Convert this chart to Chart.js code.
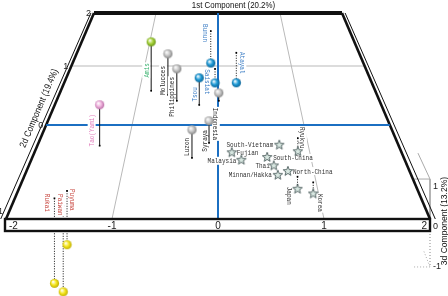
<!DOCTYPE html>
<html>
<head>
    <meta charset="utf-8">
    <script src="https://cdn.jsdelivr.net/npm/chart.js@4.4.1/dist/chart.umd.min.js"></script>
    <style>
        html, body { margin: 0; padding: 0; background: #fff; }
        #wrap { width: 448px; height: 296px; }
    </style>
</head>
<body>
<div id="wrap"><canvas id="pca" width="448" height="296"></canvas></div>
<script>
    // population scores on the first three principal components
    const populations = ['Amis', 'Molucces', 'Philippines', 'Tsou', 'Bunun', 'Saisiat', 'Atayal', 'Indonesia',
        'Syraya', 'Luzon', 'Tao(Yami)', 'Puyuma', 'Paiwan', 'Rukai',
        'South-Vietnam', 'Fujian', 'Malaysia', 'South-China', 'Thai', 'Minnan/Hakka', 'North-China',
        'Ryukyu', 'Japan', 'Korea'];
    const pc1 = [-0.85, -0.63, -0.51, -0.23, -0.11, -0.04, 0.26, 0.01,
        -0.10, -0.28, -1.31, -1.51, -1.50, -1.61,
        0.68, 0.15, 0.25, 0.53, 0.59, 0.62, 0.73,
        0.90, 0.82, 0.97];
    const pc2 = [0.58, 0.51, 0.41, 0.34, 1.66, 0.95, 1.25, 0.41,
        -0.19, -0.35, -0.22, -0.70, -0.86, -0.78,
        -0.21, -0.29, -0.37, -0.34, -0.43, -0.53, -0.49,
        -0.14, -0.55, -0.61];
    const pc3 = [1.65, 1.37, 1.05, 0.88, -1.29, -0.50, -1.13, 0.26,
        0.65, 0.80, 1.20, -1.43, -2.21, -2.22,
        0, 0, 0, 0, 0, 0, 0,
        -0.39, -0.33, -0.30];
    const groups = ['amis', 'island', 'island', 'taiwan', 'taiwan', 'taiwan', 'taiwan', 'island',
        'island', 'island', 'tao', 'south', 'south', 'south',
        'asia', 'asia', 'asia', 'asia', 'asia', 'asia', 'asia',
        'asia', 'asia', 'asia'];

    const pc1Ticks = [-2, -1, 0, 1, 2];
    const pc2Ticks = [2, 1, 0, -1];
    const pc3Ticks = [1, 0, -1];
    const titles = ['1st Component (20.2%)', '2d Component (19.4%)', '3d Component (13.2%)'];

    // ---- look ----
    const groupStyle = {
        amis:   { marker: 'ball', color: '#a8d43a', dark: '#5d8a12', text: '#3cb371' },
        taiwan: { marker: 'ball', color: '#1e9bd7', dark: '#0b5c8c', text: '#3a7cc4' },
        island: { marker: 'ball', color: '#c6c6c6', dark: '#7c7c7c', text: '#222' },
        tao:    { marker: 'ball', color: '#efb2dd', dark: '#b2639e', text: '#e27dbb' },
        south:  { marker: 'ball', color: '#f6e61c', dark: '#b5a500', text: '#c8453e' },
        asia:   { marker: 'star', color: '#d8e7e1', dark: '#4c5c5c', text: '#333' }
    };

    // [rotation, dx, dy]; rotated labels sit beside the drop line, flat ones beside the star
    const labelPlace = {
        'Amis': [-90, -5, 4], 'Molucces': [-90, -5, 6], 'Philippines': [-90, -5, 12], 'Tsou': [-90, -5, 3],
        'Bunun': [90, -5, -14], 'Saisiat': [90, -8, 6], 'Atayal': [90, 6, -5], 'Indonesia': [90, -3, 27],
        'Syraya': [-90, -5, 9], 'Luzon': [-90, -5, 3], 'Tao(Yami)': [-90, -8, 5],
        'Puyuma': [90, 5, -18], 'Paiwan': [90, -3, -44], 'Rukai': [90, -7, -38],
        'Ryukyu': [90, 5, -7], 'Japan': [90, -8, 13], 'Korea': [90, 7, 15],
        'South-Vietnam': [0, -6, 0], 'Fujian': [0, 5, 0], 'Malaysia': [0, -5, 1], 'South-China': [0, 6, 1],
        'Thai': [0, -4, 0], 'North-China': [0, 5, 0], 'Minnan/Hakka': [0, -6, 0]
    };

    // perspective of the floor (pc3 = 0) in view units
    const view = { cx: 218, rows: [13, 66, 125, 219], w0: 62, wSlope: 0.2136, rise: 0.377 };

    function floorRow(p2) {
        const r = view.rows;
        for (let i = 0; i < pc2Ticks.length - 1; i++) {
            const a = pc2Ticks[i], b = pc2Ticks[i + 1];
            if (p2 <= a && p2 >= b || i === pc2Ticks.length - 2) {
                return r[i] + (a - p2) / (a - b) * (r[i + 1] - r[i]);
            }
        }
    }

    function project(p1, p2, p3) {
        const yf = floorRow(p2);
        const w = view.w0 + (yf - view.rows[0]) * view.wSlope;
        return { x: view.cx + p1 * w, y: yf - p3 * w * view.rise };
    }

    function segment(points, color, width, dash, order) {
        return {
            data: points.map(p => project(p[0], p[1], p[2])),
            showLine: true, borderColor: color, borderWidth: width, borderDash: dash || [],
            pointRadius: 0, order: order, borderCapStyle: 'butt'
        };
    }

    function sphere(color, dark) {
        const c = document.createElement('canvas');
        c.width = 11; c.height = 11;
        const g = c.getContext('2d');
        const grd = g.createRadialGradient(4, 3.8, 0.3, 5.5, 5.5, 5);
        grd.addColorStop(0, '#ffffff');
        grd.addColorStop(0.5, color);
        grd.addColorStop(1, dark);
        g.fillStyle = grd;
        g.beginPath(); g.arc(5.5, 5.5, 4.6, 0, Math.PI * 2); g.fill();
        return c;
    }

    function star(color, dark) {
        const c = document.createElement('canvas');
        c.width = 12; c.height = 12;
        const g = c.getContext('2d');
        g.beginPath();
        for (let i = 0; i < 10; i++) {
            const r = i % 2 ? 2.1 : 5;
            const a = -Math.PI / 2 + i * Math.PI / 5;
            g.lineTo(6 + r * Math.cos(a), 6.3 + r * Math.sin(a));
        }
        g.closePath();
        g.fillStyle = color; g.fill();
        g.strokeStyle = dark; g.lineWidth = 0.9; g.stroke();
        return c;
    }

    const datasets = [];
    const gray = '#b9b9b9', blue = '#1b6fc2', ink = '#111';

    // floor grid
    datasets.push(segment([[-2, 1, 0], [2, 1, 0]], gray, 1, null, 6));
    datasets.push(segment([[-1, 2, 0], [-1, -1, 0]], gray, 1, null, 6));
    datasets.push(segment([[1, 2, 0], [1, -1, 0]], gray, 1, null, 6));
    datasets.push(segment([[-2, 0, 0], [2, 0, 0]], blue, 2, null, 5));
    datasets.push(segment([[0, 2, 0], [0, -1, 0]], blue, 2, null, 5));
    // floor frame
    datasets.push(segment([[-2, 2, 0], [2, 2, 0]], ink, 4, null, 5));
    datasets.push(segment([[-2, 2, 0], [-2, -1, 0]], ink, 2.6, null, 5));
    datasets.push(segment([[-2.05, 2, 0], [-2.05, -1, 0]], ink, 1, null, 5));
    datasets.push(segment([[2, 2, 0], [2, -1, 0]], ink, 2.6, null, 5));
    datasets.push(segment([[2.05, 2, 0], [2.05, -1, 0]], ink, 1, null, 5));
    // third component box corner
    datasets.push(segment([[2, -0.7, 1], [2, -1, 1]], '#aaa', 1, null, 5));
    datasets.push(segment([[1.85, -1, 1], [2, -1, 1]], '#aaa', 1, null, 5));
    datasets.push(segment([[2, -1, 1], [2, -1, 0]], '#aaa', 1, null, 5));
    datasets.push(segment([[2, -1, 0], [2, -1, -1.2]], '#888', 1, [1, 2], 5));
    datasets.push(segment([[2, -0.85, -1.2], [2, -1, -1.2]], '#aaa', 1, [1, 2], 5));
    datasets.push(segment([[1.85, -1, -1.2], [2, -1, -1.2]], '#aaa', 1, [1, 2], 5));

    // drop lines from each marker to the floor
    populations.forEach((name, i) => {
        if (pc3[i] === 0) return;
        datasets.push(segment([[pc1[i], pc2[i], 0], [pc1[i], pc2[i], pc3[i]]], '#111', 1,
            pc3[i] < 0 ? [1, 1.5] : null, 2));
    });

    datasets.push({
        label: 'floor',
        data: populations.map((n, i) => project(pc1[i], pc2[i], 0)).filter((p, i) => pc3[i] !== 0),
        pointStyle: 'rect', pointRadius: 1.2, backgroundColor: '#000', borderWidth: 0, order: 1
    });

    datasets.push({
        label: 'markers',
        data: populations.map((n, i) => project(pc1[i], pc2[i], pc3[i])),
        pointStyle: groups.map(g => {
            const s = groupStyle[g];
            return s.marker === 'ball' ? sphere(s.color, s.dark) : star(s.color, s.dark);
        }),
        pointRadius: 5, order: 0
    });

    function tag(c, text, x, y, rot, align, color, font, sx, bg) {
        c.save();
        c.translate(x, y);
        c.rotate(rot * Math.PI / 180);
        c.scale(sx, 1);
        c.font = font;
        c.textAlign = align;
        c.textBaseline = 'middle';
        if (bg) {
            const w = c.measureText(text).width;
            const x0 = align === 'left' ? 0 : align === 'right' ? -w : -w / 2;
            c.fillStyle = '#fff';
            c.fillRect(x0 - 1, -4, w + 2, 8);
        }
        c.fillStyle = color;
        c.fillText(text, 0, 0.5);
        c.restore();
    }

    const overlay = {
        id: 'overlay',
        beforeDatasetDraw(chart, args) {
            if (chart.data.datasets[args.index].label !== 'markers') return;
            const c = chart.ctx;
            const sx = chart.scales.x, sy = chart.scales.y;
            const P = (a, b, h) => {
                const p = project(a, b, h);
                return [sx.getPixelForValue(p.x), sy.getPixelForValue(p.y)];
            };

            // front slab carrying the first component ticks
            const l = P(-2, -1, 0), r = P(2, -1, 0);
            c.save();
            c.fillStyle = '#fff';
            c.fillRect(l[0] - 1, l[1], r[0] - l[0] + 1, 12);
            c.lineWidth = 2.4;
            c.strokeStyle = ink;
            c.strokeRect(l[0] - 1, l[1], r[0] - l[0] + 1, 12);
            c.restore();

            const tickFont = "10px 'Liberation Sans', Arial, sans-serif";
            pc1Ticks.forEach((t, i) => {
                const p = P(t, -1, 0);
                const align = i === 0 ? 'left' : i === pc1Ticks.length - 1 ? 'right' : 'center';
                const x = align === 'left' ? p[0] + 3 : align === 'right' ? p[0] - 3 : p[0];
                tag(c, String(t), x, p[1] + 6.5, 0, align, '#222', tickFont, 1, false);
            });
            pc2Ticks.forEach(t => {
                const p = P(-2, t, 0);
                tag(c, String(t), p[0] - 3, p[1] + (t === -1 ? -8 : 0), 0, 'right', '#222',
                    "9px 'Liberation Sans', Arial, sans-serif", 1, false);
            });
            pc3Ticks.forEach(t => {
                const p = P(2, -1, t);
                tag(c, String(t), p[0] + 3, p[1] + 7, 0, 'left', '#222',
                    "9px 'Liberation Sans', Arial, sans-serif", 1, false);
            });

            // axis titles
            const titleFont = "9.5px 'Liberation Sans', Arial, sans-serif";
            const top = P(0.25, 2, 0);
            tag(c, titles[0], top[0], top[1] - 8, 0, 'center', '#111', titleFont, 0.83, false);
            const a = P(-2, 2, 0), b = P(-2, -1, 0);
            const ang = Math.atan2(a[1] - b[1], a[0] - b[0]) * 180 / Math.PI;
            const mid = P(-2, 0.1, 0);
            tag(c, titles[1], mid[0] - 10, mid[1] - 11, ang, 'center', '#111', titleFont, 0.86, false);
            const z = P(2, -1, 0);
            tag(c, titles[2], z[0] + 14, z[1] + 2, -90, 'center', '#111', titleFont, 0.9, false);

            // population names
            const labFont = "7.5px 'Liberation Mono', 'DejaVu Sans Mono', monospace";
            populations.forEach((name, i) => {
                const st = groupStyle[groups[i]];
                const pl = labelPlace[name];
                const f = P(pc1[i], pc2[i], 0), m = P(pc1[i], pc2[i], pc3[i]);
                if (pl[0] === 0) {
                    tag(c, name, m[0] + pl[1], m[1] + pl[2], 0, pl[1] < 0 ? 'right' : 'left',
                        st.text, labFont, 0.8, true);
                } else {
                    tag(c, name, f[0] + pl[1], (f[1] + m[1]) / 2 + pl[2], pl[0], 'center',
                        st.text, labFont, 0.8, true);
                }
            });
        }
    };

    new Chart(document.getElementById('pca').getContext('2d'), {
        type: 'scatter',
        data: { datasets: datasets },
        options: {
            responsive: false,
            animation: false,
            events: [],
            layout: { padding: 0, autoPadding: false },
            scales: {
                x: { type: 'linear', min: 0, max: 448, display: false },
                y: { type: 'linear', min: 0, max: 296, reverse: true, display: false }
            },
            plugins: { legend: { display: false }, tooltip: { enabled: false } }
        },
        plugins: [overlay]
    });
</script>
</body>
</html>
